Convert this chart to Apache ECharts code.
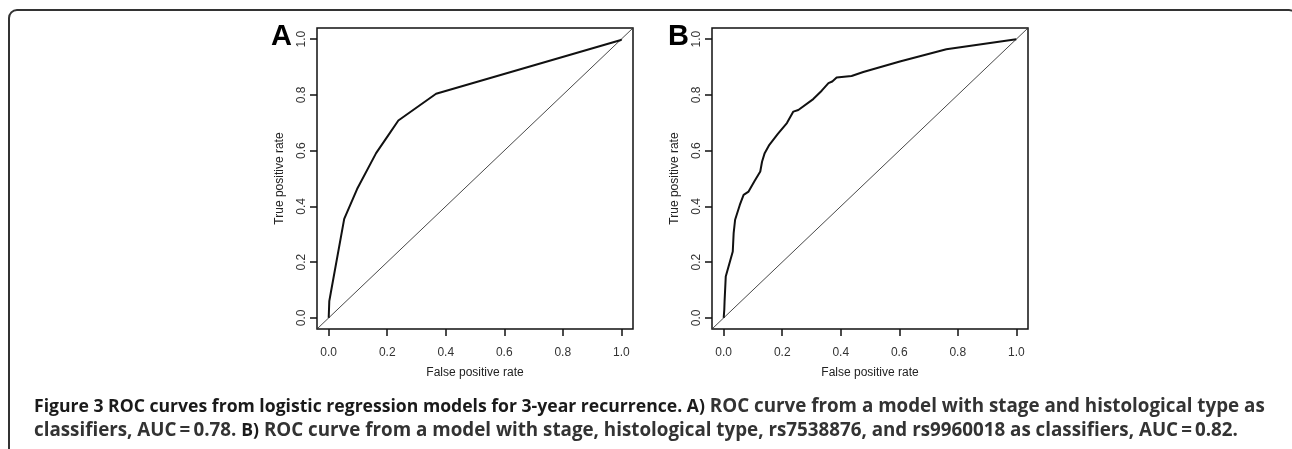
<!DOCTYPE html>
<html>
<head>
<meta charset="utf-8">
<title>ROC curves</title>
<script src="https://cdn.jsdelivr.net/npm/echarts@6/dist/echarts.min.js"></script>
<style>
  html, body { margin: 0; padding: 0; background: #fff; overflow: hidden; }
  #wrap { position: relative; width: 1292px; height: 449px; }
  #demo { width: 1292px; height: 449px; }
  #frame { position: absolute; left: 8px; top: 9px; width: 1290px; height: 470px;
    border: 2px solid #333; border-radius: 9px; pointer-events: none; box-sizing: border-box; }
</style>
</head>
<body>
<div id="wrap">
  <div id="demo"></div>
  <div id="frame"></div>
</div>
<script>
// tick positions on both axes
const tickValues = [0, 0.2, 0.4, 0.6, 0.8, 1.0];

// panel A: stage + histological type (AUC = 0.78)
const rocAx = [0, 0.002, 0.007, 0.053, 0.097, 0.162, 0.197, 0.238, 0.367, 0.999, 1];
const rocAy = [0, 0.06, 0.089, 0.355, 0.462, 0.591, 0.645, 0.708, 0.804, 0.997, 1];

// panel B: + rs7538876, rs9960018 (AUC = 0.82)
const rocBx = [0, 0.002, 0.003, 0.007, 0.009, 0.031, 0.034, 0.039, 0.055, 0.068, 0.085, 0.105,
  0.125, 0.131, 0.140, 0.156, 0.185, 0.216, 0.238, 0.255, 0.306, 0.335, 0.358, 0.371, 0.386,
  0.437, 0.477, 0.602, 0.761, 1];
const rocBy = [0, 0.03, 0.06, 0.148, 0.15, 0.238, 0.304, 0.352, 0.405, 0.441, 0.453, 0.49,
  0.525, 0.56, 0.591, 0.621, 0.66, 0.699, 0.740, 0.746, 0.785, 0.815, 0.842, 0.848, 0.862,
  0.868, 0.882, 0.920, 0.964, 1];

// chance line across the whole plotting region
const diagonal = [-0.04, 1.04];

const panelLetters = ['A', 'B'];
const xTitle = 'False positive rate';
const yTitle = 'True positive rate';

const captionBold = 'Figure 3 ROC curves from logistic regression models for 3-year recurrence. A)';
const captionA = ' ROC curve from a model with stage and histological type as';
const captionA2 = 'classifiers, AUC\u2009=\u20090.78. ';
const captionBoldB = 'B)';
const captionB = ' ROC curve from a model with stage, histological type, rs7538876, and rs9960018 as classifiers, AUC\u2009=\u20090.82.';

const zip = (xs, ys) => xs.map((x, i) => [x, ys[i]]);

let chart = echarts.init(document.getElementById('demo'));

const plotFont = 'Liberation Sans';
const grids = [
  { left: 317, top: 28, width: 316, height: 301 },
  { left: 712, top: 28, width: 316, height: 301 }
];

function axisFor(i, isX) {
  return {
    gridIndex: i, type: 'value', min: -0.04, max: 1.04,
    name: isX ? xTitle : yTitle, nameLocation: 'middle', nameGap: isX ? 38 : 31,
    nameTextStyle: { fontFamily: plotFont, fontSize: 12, color: '#222' },
    axisLine: { show: false, onZero: false },
    axisTick: { show: true, length: 7, customValues: tickValues, lineStyle: { color: '#111', width: 1.5 } },
    axisLabel: { customValues: tickValues, margin: isX ? 18 : 9, rotate: isX ? 0 : 90,
      fontFamily: plotFont, fontSize: 12, color: '#333', formatter: v => v.toFixed(1) },
    splitLine: { show: false }
  };
}

const letterStyle = { fontFamily: plotFont, fontWeight: 'bold', fontSize: 29, color: '#000' };

let option = {
  animation: false,
  title: [
    { text: panelLetters[0], left: 271, top: 22, padding: 0, textStyle: letterStyle },
    { text: panelLetters[1], left: 668, top: 22, padding: 0, textStyle: letterStyle },
    {
      text: '{b|' + captionBold + '}{r|' + captionA + '}\n{r|' + captionA2 + '}{b|' + captionBoldB + '}{r|' + captionB + '}',
      left: 34, top: 395, padding: 0,
      textStyle: {
        rich: {
          b: { fontFamily: 'Open Sans', fontWeight: 'bold', fontSize: 17.6, lineHeight: 24, color: '#1a1a1a' },
          r: { fontFamily: 'Open Sans', fontSize: 18.8, lineHeight: 24, color: '#333' }
        }
      }
    }
  ],
  grid: grids.map(g => Object.assign({ show: true, borderColor: '#111', borderWidth: 1.5 }, g)),
  xAxis: [axisFor(0, true), axisFor(1, true)],
  yAxis: [axisFor(0, false), axisFor(1, false)],
  series: [
    { type: 'line', xAxisIndex: 0, yAxisIndex: 0, data: zip(diagonal, diagonal), symbol: 'none',
      lineStyle: { color: '#333', width: 0.9 } },
    { type: 'line', xAxisIndex: 0, yAxisIndex: 0, data: zip(rocAx, rocAy), symbol: 'none',
      lineStyle: { color: '#111', width: 2 } },
    { type: 'line', xAxisIndex: 1, yAxisIndex: 1, data: zip(diagonal, diagonal), symbol: 'none',
      lineStyle: { color: '#333', width: 0.9 } },
    { type: 'line', xAxisIndex: 1, yAxisIndex: 1, data: zip(rocBx, rocBy), symbol: 'none',
      lineStyle: { color: '#111', width: 2 } }
  ]
};
chart.setOption(option);
</script>
</body>
</html>
